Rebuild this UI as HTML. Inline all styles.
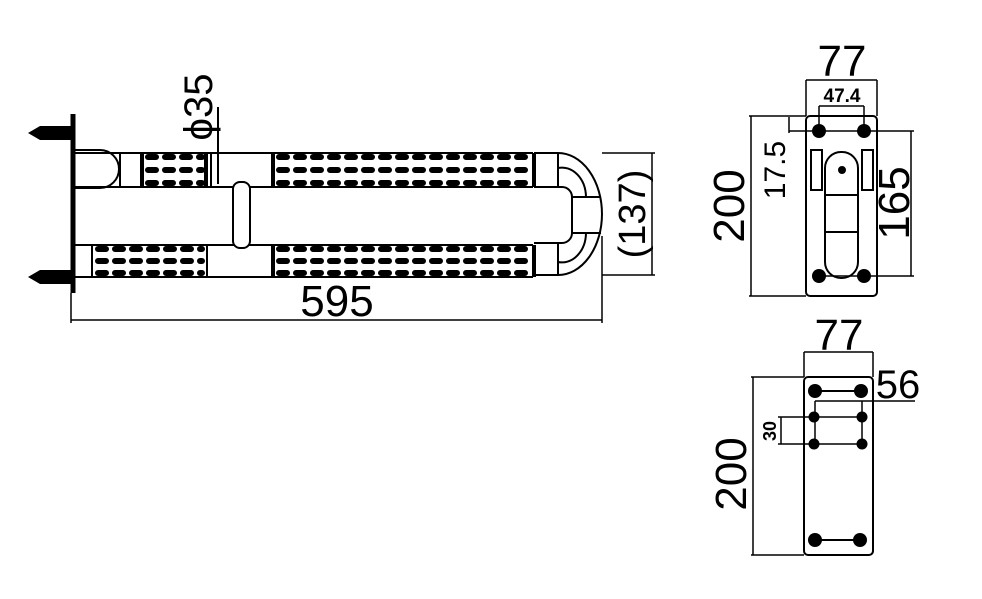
<!DOCTYPE html>
<html><head><style>html,body{margin:0;padding:0;background:#fff}svg{display:block}</style></head><body>
<svg width="982" height="599" viewBox="0 0 982 599" xmlns="http://www.w3.org/2000/svg" font-family="Liberation Sans, sans-serif">
<g stroke="#000" fill="none" stroke-width="2">
<line x1="73" y1="114" x2="73" y2="293" stroke-width="5"/>
<polygon points="28,133 40,126 72,126 72,140 40,140" fill="#000" stroke="none"/>
<polygon points="28,277 40,270 72,270 72,284 40,284" fill="#000" stroke="none"/>
<line x1="75" y1="153" x2="533" y2="153"/>
<line x1="75" y1="187" x2="233" y2="187"/>
<line x1="250" y1="187" x2="533" y2="187"/>
<path d="M75,150 H100 A18,18 0 0 1 100,188 H75"/>
<line x1="120" y1="153" x2="120" y2="187"/>
<line x1="142" y1="153" x2="142" y2="187" stroke-width="4"/>
<line x1="206" y1="153" x2="206" y2="187" stroke-width="4"/>
<line x1="211" y1="153" x2="211" y2="187"/>
<line x1="273" y1="153" x2="273" y2="187" stroke-width="4"/>
<line x1="534" y1="153" x2="534" y2="187" stroke-width="4"/>
<line x1="75" y1="245" x2="533" y2="245"/>
<line x1="75" y1="277" x2="533" y2="277"/>
<line x1="92" y1="245" x2="92" y2="277"/>
<line x1="207" y1="245" x2="207" y2="277" stroke-width="2"/>
<line x1="273" y1="245" x2="273" y2="277" stroke-width="4"/>
<line x1="534" y1="245" x2="534" y2="277" stroke-width="4"/>
<rect x="233" y="182" width="17" height="66" rx="7" fill="#fff"/>
<path d="M534,153 H558 A44,61 0 0 1 558,275 H534"/>
<path d="M534,187 H562 A10,10 0 0 1 572,197 V233 A10,10 0 0 1 562,243 H534"/>
<line x1="558" y1="153" x2="558" y2="187"/>
<line x1="558" y1="243" x2="558" y2="275"/>
<path d="M558,168 A24,30 0 0 1 586,197"/>
<path d="M558,262 A24,30 0 0 0 586,233"/>
<line x1="572" y1="197" x2="601" y2="197"/>
<line x1="572" y1="233" x2="601" y2="233"/>
<g stroke-width="6" stroke-dasharray="8 9" stroke-linecap="round">
<line x1="148" y1="157" x2="202" y2="157"/><line x1="148" y1="170" x2="202" y2="170"/><line x1="148" y1="183" x2="202" y2="183"/>
<line x1="279" y1="157" x2="529" y2="157"/><line x1="279" y1="170" x2="529" y2="170"/><line x1="279" y1="183" x2="529" y2="183"/>
<line x1="98" y1="249" x2="202" y2="249"/><line x1="98" y1="261" x2="202" y2="261"/><line x1="98" y1="273" x2="202" y2="273"/>
<line x1="279" y1="249" x2="529" y2="249"/><line x1="279" y1="261" x2="529" y2="261"/><line x1="279" y1="273" x2="529" y2="273"/>
</g>
<line x1="218" y1="107" x2="218" y2="184"/>
<line x1="71" y1="293" x2="71" y2="323" stroke-width="1.5"/>
<line x1="602" y1="236" x2="602" y2="323" stroke-width="1.5"/>
<line x1="71" y1="320" x2="602" y2="320" stroke-width="1.5"/>
<line x1="602" y1="153" x2="655" y2="153" stroke-width="1.5"/>
<line x1="602" y1="275" x2="655" y2="275" stroke-width="1.5"/>
<line x1="652" y1="153" x2="652" y2="275" stroke-width="1.5"/>
<rect x="806" y="116" width="71" height="180" rx="4"/>
<line x1="806" y1="80" x2="806" y2="116" stroke-width="1.5"/>
<line x1="877" y1="80" x2="877" y2="116" stroke-width="1.5"/>
<line x1="806" y1="80" x2="877" y2="80" stroke-width="1.5"/>
<line x1="819" y1="106" x2="864" y2="106" stroke-width="1.5"/>
<line x1="819" y1="106" x2="819" y2="131" stroke-width="1.5"/>
<line x1="864" y1="106" x2="864" y2="131" stroke-width="1.5"/>
<line x1="749" y1="116" x2="806" y2="116" stroke-width="1.5"/>
<line x1="749" y1="296" x2="806" y2="296" stroke-width="1.5"/>
<line x1="751" y1="116" x2="751" y2="296" stroke-width="1.5"/>
<line x1="789" y1="117" x2="789" y2="133" stroke-width="1.5"/>
<line x1="789" y1="131" x2="914" y2="131" stroke-width="1.5"/>
<line x1="819" y1="276" x2="914" y2="276" stroke-width="1.5"/>
<line x1="911" y1="131" x2="911" y2="276" stroke-width="1.5"/>
<rect x="811" y="150" width="11" height="40"/>
<rect x="862" y="150" width="11" height="40"/>
<rect x="825" y="152" width="33" height="126" rx="16"/>
<line x1="825" y1="195" x2="858" y2="195"/>
<line x1="825" y1="232" x2="858" y2="232"/>
<circle cx="842" cy="170" r="3" fill="#000"/>
<rect x="804" y="377" width="69" height="178" rx="4"/>
<line x1="804" y1="352" x2="804" y2="377" stroke-width="1.5"/>
<line x1="873" y1="352" x2="873" y2="377" stroke-width="1.5"/>
<line x1="804" y1="352" x2="873" y2="352" stroke-width="1.5"/>
<line x1="751" y1="377" x2="804" y2="377" stroke-width="1.5"/>
<line x1="751" y1="555" x2="804" y2="555" stroke-width="1.5"/>
<line x1="753" y1="377" x2="753" y2="555" stroke-width="1.5"/>
<line x1="815" y1="391" x2="861" y2="391"/>
<line x1="815" y1="401" x2="915" y2="401" stroke-width="1.5"/>
<line x1="815" y1="401" x2="815" y2="444" stroke-width="1.5"/>
<line x1="862" y1="401" x2="862" y2="444" stroke-width="1.5"/>
<line x1="778" y1="417" x2="862" y2="417" stroke-width="1.5"/>
<line x1="778" y1="444" x2="862" y2="444" stroke-width="1.5"/>
<line x1="781" y1="417" x2="781" y2="444" stroke-width="1.5"/>
<line x1="815" y1="540" x2="860" y2="540"/>
</g>
<g fill="#000">
<circle cx="819" cy="131" r="7"/><circle cx="864" cy="131" r="7"/>
<circle cx="819" cy="276" r="7"/><circle cx="864" cy="276" r="7"/>
<circle cx="815" cy="391" r="7"/><circle cx="861" cy="391" r="7"/>
<circle cx="814" cy="417" r="5.5"/><circle cx="862" cy="417" r="5.5"/>
<circle cx="814" cy="444" r="5.5"/><circle cx="862" cy="444" r="5.5"/>
<circle cx="815" cy="540" r="7"/><circle cx="860" cy="540" r="7"/>
</g>
<g fill="#000">
<text x="337" y="316" font-size="44" text-anchor="middle">595</text>
<text transform="translate(212,107) rotate(-90)" font-size="40" text-anchor="middle">ϕ35</text>
<text transform="translate(645,214) rotate(-90)" font-size="38" text-anchor="middle">(137)</text>
<text x="842" y="76" font-size="44" text-anchor="middle">77</text>
<text x="842" y="102" font-size="19" font-weight="bold" text-anchor="middle">47.4</text>
<text transform="translate(744,206) rotate(-90)" font-size="44" text-anchor="middle">200</text>
<text transform="translate(785,170) rotate(-90)" font-size="30" text-anchor="middle">17.5</text>
<text transform="translate(909,203) rotate(-90)" font-size="44" text-anchor="middle">165</text>
<text x="839" y="350" font-size="44" text-anchor="middle">77</text>
<text x="898" y="398" font-size="40" text-anchor="middle">56</text>
<text transform="translate(776,431) rotate(-90)" font-size="18" font-weight="bold" text-anchor="middle">30</text>
<text transform="translate(746,474) rotate(-90)" font-size="44" text-anchor="middle">200</text>
</g>
</svg>
</body></html>
